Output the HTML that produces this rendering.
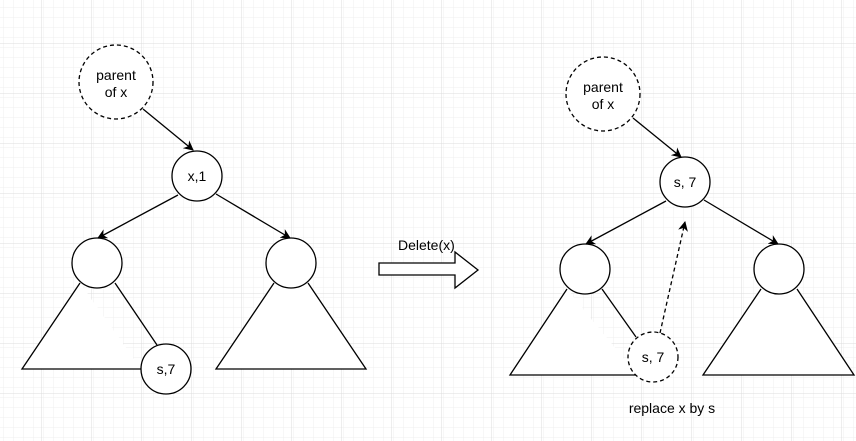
<!DOCTYPE html>
<html><head><style>
html,body{margin:0;padding:0;background:#fff;}
svg{display:block;}
text{font-family:"Liberation Sans",sans-serif;font-size:14px;fill:#000;}
</style></head><body>
<svg width="856" height="441" viewBox="0 0 856 441" xmlns="http://www.w3.org/2000/svg">
<defs>
<pattern id="minor" width="10" height="10" patternUnits="userSpaceOnUse" x="-8" y="-6">
<path d="M10 0V10H0" fill="none" stroke="#efefef" stroke-width="1"/>
</pattern>
<pattern id="major" width="50" height="50" patternUnits="userSpaceOnUse" x="-8" y="-6">
<rect width="50" height="50" fill="url(#minor)"/>
<path d="M50 0V50H0" fill="none" stroke="#dcdcdc" stroke-width="1"/>
</pattern>
<marker id="ah" markerWidth="10" markerHeight="10" refX="9" refY="5" orient="auto" markerUnits="userSpaceOnUse">
<path d="M0,0 L10,5 L0,10 L3,5 Z" fill="#000"/>
</marker>
</defs>
<rect width="856" height="441" fill="url(#major)"/>
<g stroke="#000" stroke-width="1.3" fill="#fff">
<!-- LEFT -->
<path d="M80,283 L22,369 L141,369"/>
<path d="M115,283 L157,345" fill="none"/>
<path d="M274,283 L216,369 L366,369 L308,283"/>
<circle cx="97" cy="263" r="25"/>
<circle cx="291" cy="263" r="25"/>
<circle cx="197" cy="176" r="25"/>
<circle cx="166" cy="369" r="25"/>
<circle cx="116" cy="82" r="37" stroke-dasharray="4,3"/>
<line x1="143" y1="109" x2="193" y2="150" marker-end="url(#ah)" fill="none"/>
<line x1="178" y1="195" x2="98" y2="238" marker-end="url(#ah)" fill="none"/>
<line x1="216" y1="194" x2="290" y2="238" marker-end="url(#ah)" fill="none"/>
<!-- big arrow -->
<path d="M379,263 L455,263 L455,252 L478,270 L455,288 L455,275 L379,275 Z"/>
<!-- RIGHT -->
<path d="M567,289 L510,375 L637,375"/>
<path d="M602,289 L636,337" fill="none"/>
<path d="M761,289 L703,375 L854,375 L797,289"/>
<circle cx="585" cy="269" r="25"/>
<circle cx="779" cy="269" r="25"/>
<circle cx="685" cy="182" r="25"/>
<circle cx="653" cy="357" r="25" stroke-dasharray="4,3"/>
<circle cx="603" cy="94" r="37" stroke-dasharray="4,3"/>
<line x1="633" y1="118" x2="681" y2="157" marker-end="url(#ah)" fill="none"/>
<line x1="666" y1="201" x2="586" y2="244" marker-end="url(#ah)" fill="none"/>
<line x1="704" y1="200" x2="778" y2="244" marker-end="url(#ah)" fill="none"/>
<line x1="660" y1="333" x2="685" y2="222" stroke-dasharray="4,3" marker-end="url(#ah)" fill="none"/>
</g>
<text x="116" y="80" text-anchor="middle">parent</text>
<text x="116" y="97" text-anchor="middle">of x</text>
<text x="197" y="181" text-anchor="middle">x,1</text>
<text x="166" y="374" text-anchor="middle">s,7</text>
<text x="603" y="92" text-anchor="middle">parent</text>
<text x="603" y="109" text-anchor="middle">of x</text>
<text x="685" y="187" text-anchor="middle">s, 7</text>
<text x="653" y="362" text-anchor="middle">s, 7</text>
<text x="398" y="250">Delete(x)</text>
<text x="672" y="413" text-anchor="middle">replace x by s</text>
</svg>
</body></html>
